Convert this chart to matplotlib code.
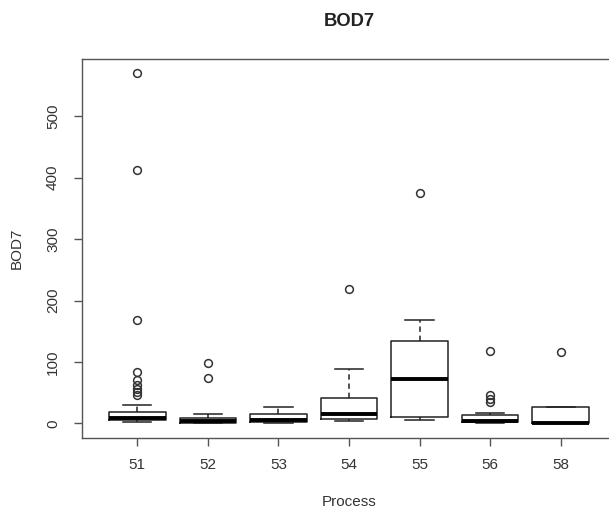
import matplotlib
matplotlib.use("Agg")
import matplotlib.pyplot as plt

plt.rcParams['font.family'] = ['Liberation Sans', 'DejaVu Sans']

categories = ['51', '52', '53', '54', '55', '56', '58']
whisker_low = [2, 0, 1, 4, 5, 1, 0]
q1 = [5, 1, 2, 6.5, 10, 2, 0.5]
medians = [9, 4, 5, 16, 72, 4, 1]
q3 = [19, 9, 16, 41, 134, 13.5, 27]
whisker_high = [30, 16, 27, 88, 168, 17, 27]
outliers = [
    [570, 412, 169, 83, 70, 62, 56, 51, 47],
    [99, 74],
    [],
    [218],
    [375],
    [118, 47, 40, 35],
    [116],
]
yticks = [0, 100, 200, 300, 400, 500]

stats = []
for i, c in enumerate(categories):
    stats.append(dict(label=c, whislo=whisker_low[i], q1=q1[i], med=medians[i],
                      q3=q3[i], whishi=whisker_high[i], fliers=outliers[i]))

W, H = 609, 512
fig = plt.figure(figsize=(W / 100, H / 100), dpi=100)
left, right, top, bottom = 82.3, 615.7, 59, 437.5
ax = fig.add_axes([left / W, 1 - bottom / H, (right - left) / W, (bottom - top) / H])

ax.bxp(stats, positions=range(1, len(categories) + 1), widths=0.8,
       patch_artist=False,
       boxprops=dict(color='#222222', linewidth=1.1),
       whiskerprops=dict(color='#222222', linewidth=1.1, linestyle=(0, (3.5, 2.5))),
       capprops=dict(color='#222222', linewidth=1.1),
       capwidths=0.4,
       medianprops=dict(color='black', linewidth=2.8, solid_capstyle='butt'),
       flierprops=dict(marker='o', markerfacecolor='none', markeredgecolor='#333333',
                       markersize=5.6, markeredgewidth=1.1, linestyle='none'))

n = len(categories)
ax.set_xlim(0.5 - 0.04 * n, n + 0.5 + 0.04 * n)
ymin, ymax = 0, 570
rng = ymax - ymin
ax.set_ylim(ymin - 0.04 * rng, ymax + 0.04 * rng)

ax.set_xticks(range(1, n + 1))
ax.set_xticklabels(categories)
ax.set_yticks(yticks)
ax.set_yticklabels([str(v) for v in yticks], rotation=90, va='center')

for s in ax.spines.values():
    s.set_color('#555555')
    s.set_linewidth(1.0)
ax.tick_params(axis='both', colors='#555555', labelcolor='#333333', length=6, width=1.0,
               labelsize=11)
ax.tick_params(axis='x', pad=9)
ax.tick_params(axis='y', pad=10)

title_y = 1 + (top - 22) / (bottom - top)
ax.set_title('BOD7', fontsize=13.2, fontweight='bold', color='#222222', pad=0,
             y=title_y, va='center')
ax.set_xlabel('Process', fontsize=11, color='#333333')
ax.set_ylabel('BOD7', fontsize=11, color='#333333')
ax.xaxis.set_label_coords(0.5, -(501.7 - bottom) / (bottom - top))
ax.xaxis.label.set_va('center')
ax.yaxis.set_label_coords(-(left - 17) / (right - left), 0.5)
ax.yaxis.label.set_va('center')

fig.savefig('out.png', dpi=100)
